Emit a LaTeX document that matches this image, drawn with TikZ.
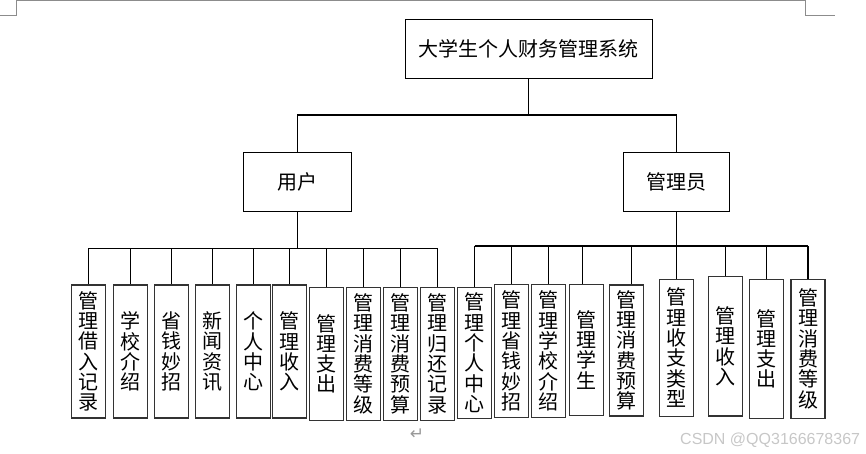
\documentclass[tikz,border=0pt]{standalone}
\usepackage{fontspec}
\newfontfamily\cjk{Noto Sans CJK SC}
\newfontfamily\dejavu{DejaVu Sans}
\newfontfamily\lsans{Liberation Sans}
\begin{document}
\begin{tikzpicture}[x=1pt,y=-1pt,
  box/.style={draw=black, line width=1pt, inner sep=0pt, font=\cjk\fontsize{20}{24}\selectfont},
  leaf/.style={draw=black!80, line width=1.1pt, inner sep=0pt, minimum width=34pt, align=center,
    font=\cjk\fontsize{20}{20.3}\selectfont},
  link/.style={line width=1.2pt},
  pagemark/.style={draw=black!45, line width=1pt}]
\useasboundingbox (0,0) rectangle (866,454);

% page corner marks
\draw[pagemark] (16,0.5) -- (805,0.5);
\draw[pagemark] (16,0) -- (16,16) -- (0,16);
\draw[pagemark] (805,0) -- (805,16) -- (835,16);

% main boxes
\node[box, minimum width=247.3pt, minimum height=59pt] (top) at (528.7,48.8) {大学生个人财务管理系统};
\node[box, minimum width=108.4pt, minimum height=58.7pt] (user) at (297.5,181.7) {用户};
\node[box, minimum width=105.7pt, minimum height=58.7pt] (admin) at (676.2,181.7) {管理员};

% left leaves
\node[leaf, minimum height=133pt] (L1) at (88.8,351.5) {管\\理\\借\\入\\记\\录};
\node[leaf, minimum height=133pt] (L2) at (130.3,351.5) {学\\校\\介\\绍};
\node[leaf, minimum height=133pt] (L3) at (171.3,351.5) {省\\钱\\妙\\招};
\node[leaf, minimum height=133pt] (L4) at (212.3,351.5) {新\\闻\\资\\讯};
\node[leaf, minimum height=133pt] (L5) at (253.5,351.5) {个\\人\\中\\心};
\node[leaf, minimum height=133pt] (L6) at (289.7,351.5) {管\\理\\收\\入};
\node[leaf, minimum height=133pt] (L7) at (326.3,353.8) {管\\理\\支\\出};
\node[leaf, minimum height=133pt] (L8) at (363.7,353.8) {管\\理\\消\\费\\等\\级};
\node[leaf, minimum height=133pt] (L9) at (400.3,353.8) {管\\理\\消\\费\\预\\算};
\node[leaf, minimum height=133pt] (L10) at (437.8,353.8) {管\\理\\归\\还\\记\\录};

% right leaves
\node[leaf, minimum height=131pt] (R1) at (474.5,352.8) {管\\理\\个\\人\\中\\心};
\node[leaf, minimum height=133.4pt] (R2) at (511.5,351) {管\\理\\省\\钱\\妙\\招};
\node[leaf, minimum height=133.4pt] (R3) at (548.8,351) {管\\理\\学\\校\\介\\绍};
\node[leaf, minimum height=130.7pt] (R4) at (586.2,349.7) {管\\理\\学\\生};
\node[leaf, minimum height=131pt] (R5) at (626.7,350.5) {管\\理\\消\\费\\预\\算};
\node[leaf, minimum height=136.7pt] (R6) at (676.2,347.7) {管\\理\\收\\支\\类\\型};
\node[leaf, minimum height=139.3pt] (R7) at (725.3,346.3) {管\\理\\收\\入};
\node[leaf, minimum height=139pt] (R8) at (766.3,348.8) {管\\理\\支\\出};
\node[leaf, minimum height=139pt] (R9) at (808,348.8) {管\\理\\消\\费\\等\\级};

% top level connectors
\coordinate (j0) at (528.7,115);
\draw[link] (top.south) -- (j0);
\draw[link] (user.north) |- (j0) -| (admin.north);

% left bus
\coordinate (bL) at (297.5,248.3);
\draw[link] (user.south) -- (bL);
\draw[link] (L1.north |- bL) -- (L10.north |- bL);
\foreach \n in {L1,L2,L3,L4,L5,L6,L7,L8,L9,L10}
  \draw[link] (\n.north) -- (\n.north |- bL);

% right bus
\coordinate (bR) at (676.2,246);
\draw[link] (admin.south) -- (bR);
\draw[link] (R1.north |- bR) -- (R9.north |- bR);
\foreach \n in {R1,R2,R3,R6,R7,R8,R9}
  \draw[link] (\n.north) -- (\n.north |- bR);
\draw[link] ([xshift=-3.5pt]R4.north) -- ([xshift=-3.5pt]R4.north |- bR);
\draw[link] ([xshift=5pt]R5.north) -- ([xshift=5pt]R5.north |- bR);

% return mark and watermark
\node[text=black!40, inner sep=0pt, font=\dejavu\fontsize{17}{17}\selectfont] (ret) at (417,434) {↵};
\node[anchor=west, text=black!22, inner sep=0pt, font=\lsans\fontsize{16}{16}\selectfont] (wm) at (680,440) {CSDN @QQ3166678367};
\end{tikzpicture}
\end{document}
